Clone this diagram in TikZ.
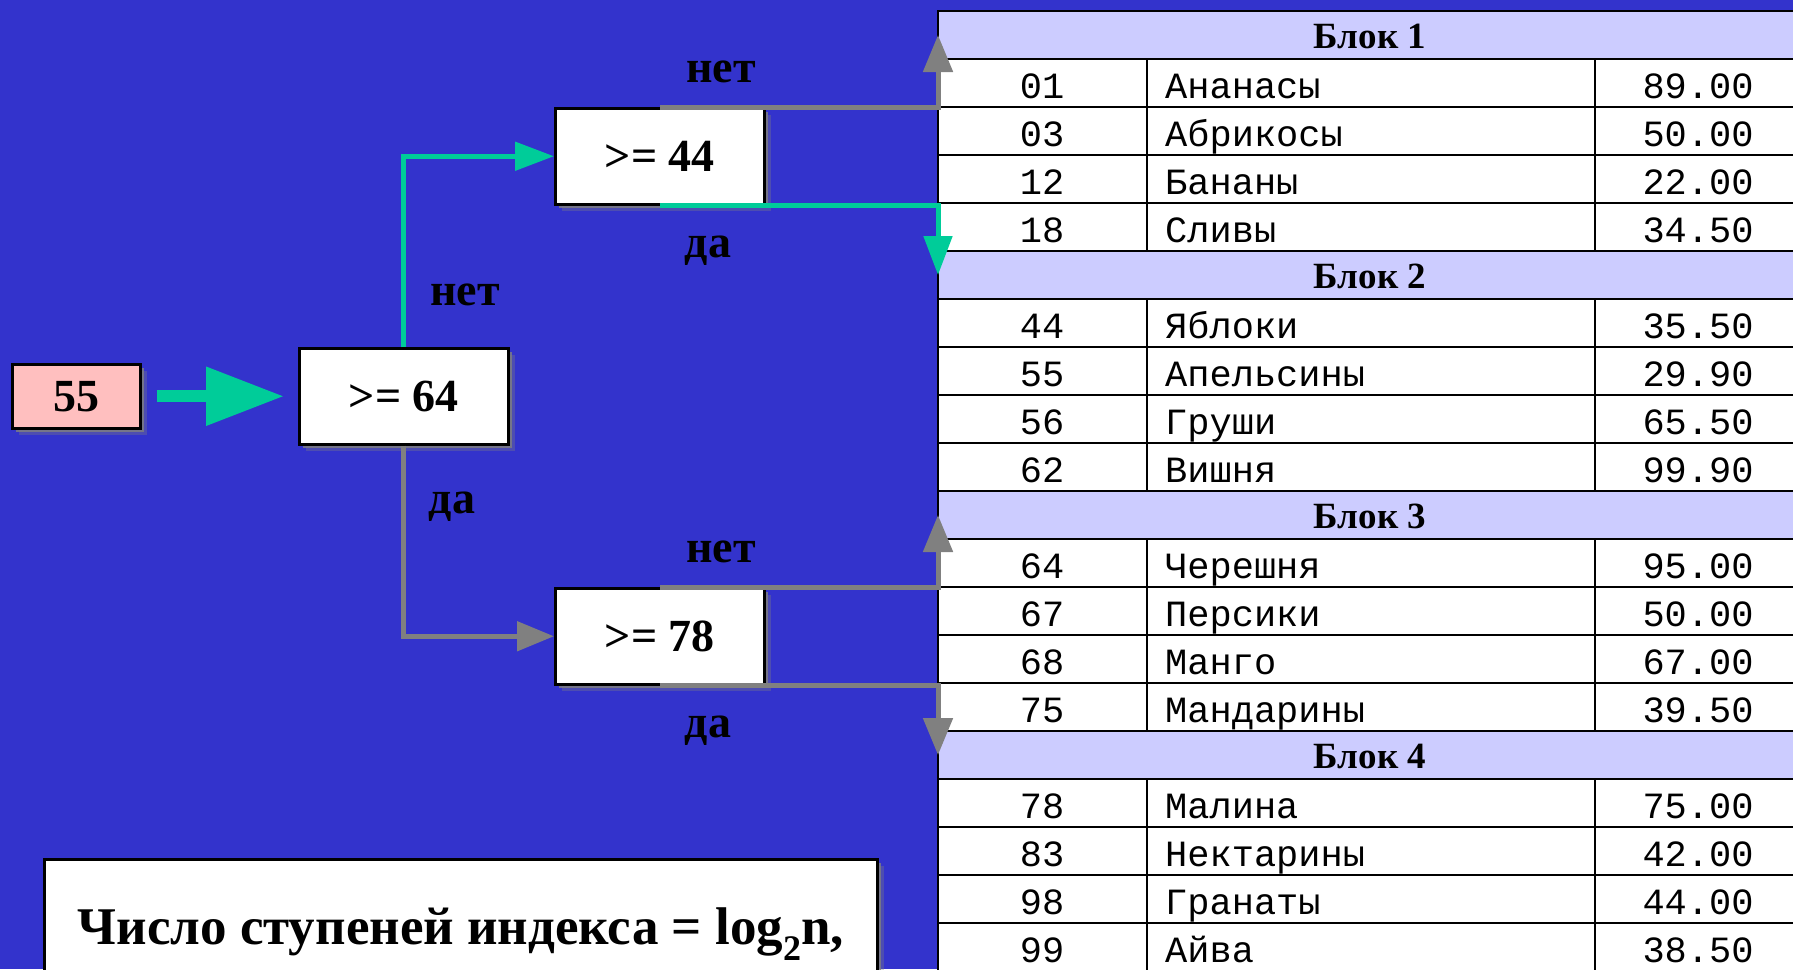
\documentclass[tikz,border=0pt]{standalone}
\usepackage{fontspec}
\setmainfont{Liberation Serif}
\newfontfamily\monof{Liberation Mono}
\usetikzlibrary{arrows.meta,shadows}
\definecolor{bgblue}{HTML}{3333CC}
\definecolor{hdr}{HTML}{CCCCFF}
\definecolor{pinkbox}{HTML}{FFBFBF}
\definecolor{grn}{HTML}{00CC99}
\definecolor{gry}{HTML}{808080}
\begin{document}
\begin{tikzpicture}[x=1pt,y=-1pt,
  boxshadow/.style={drop shadow={shadow xshift=7pt,shadow yshift=-7pt,fill=gry,opacity=.35},
                    drop shadow={shadow xshift=4pt,shadow yshift=-4pt,fill=gry,opacity=.8}},
  box/.style={draw=black, line width=2.5pt, fill=white, inner sep=0pt, anchor=north west,
              font=\fontsize{46}{50}\selectfont\bfseries, boxshadow},
  lbl/.style={font=\fontsize{46}{50}\selectfont\bfseries, anchor=base, inner sep=0pt},
  garrow/.style={draw=gry, line width=5pt, -{Triangle[length=37pt,width=29pt]}},
  carrow/.style={draw=grn, line width=5pt, -{Triangle[length=39pt,width=28pt]}},
  hcell/.style={draw=black, line width=2.5pt, fill=hdr, anchor=north west, minimum width=864pt,
                minimum height=48pt, inner sep=0pt, outer sep=0pt},
  htext/.style={font=\fontsize{37}{40}\selectfont\bfseries, anchor=base, inner sep=0pt},
  tline/.style={draw=black, line width=2.5pt},
  dtext/.style={font=\fontsize{37}{40}\selectfont\monof, inner sep=0pt}
]
\useasboundingbox (0,0) rectangle (1793,969);
\fill[bgblue] (0,0) rectangle (1793,969);

% table
\foreach \b in {0,1,2,3}{
  \pgfmathtruncatemacro\bn{\b+1}
  \node[hcell] (h\bn) at (938,11+240*\b) {};
  \node[htext] (ht\bn) at (1370,48+240*\b) {Блок \bn};
}
\foreach \i/\id/\nm/\pr in {1/01/Ананасы/89.00, 2/03/Абрикосы/50.00, 3/12/Бананы/22.00, 4/18/Сливы/34.50,
  6/44/Яблоки/35.50, 7/55/Апельсины/29.90, 8/56/Груши/65.50, 9/62/Вишня/99.90,
  11/64/Черешня/95.00, 12/67/Персики/50.00, 13/68/Манго/67.00, 14/75/Мандарины/39.50,
  16/78/Малина/75.00, 17/83/Нектарины/42.00, 18/98/Гранаты/44.00, 19/99/Айва/38.50}{
  \pgfmathsetmacro\yt{11+48*\i}
  \draw[tline, fill=white] (938,\yt) rectangle (1802,\yt+48);
  \draw[tline] (1147,\yt) -- (1147,\yt+48) (1595,\yt) -- (1595,\yt+48);
  \node[dtext, anchor=base] (id\i) at (1042,\yt+39) {\id};
  \node[dtext, anchor=base west] (nm\i) at (1165,\yt+39) {\nm};
  \node[dtext, anchor=base] (pr\i) at (1698,\yt+39) {\pr};
}

% boxes
\node[box, fill=pinkbox, minimum width=128pt, minimum height=64pt] (n55) at (11,363) {55};
\node[box, minimum width=209pt, minimum height=96pt] (n64) at (298,347) {>= 64};
\node[box, minimum width=209pt, minimum height=96pt] (n44) at (554,107) {>= 44};
\node[box, minimum width=209pt, minimum height=96pt] (n78) at (554,587) {>= 78};
\node[box, minimum width=833pt, minimum height=150pt, font=\fontsize{53}{57}\selectfont\bfseries]
  (formula) at (43,858) {Число ступеней индекса = log\raisebox{-.3em}{\fontsize{36}{36}\selectfont 2}n,};

% connectors
\draw[draw=grn, line width=12pt, -{Triangle[length=78pt,width=56pt]}, shorten <=15pt, shorten >=14pt]
  (n55.east) -- (n64.west);
\draw[carrow] (n64.north) |- (n44.west);
\draw[garrow] (n64.south) |- (n78.west);
\draw[garrow] (n44.north) -| (h1.west);
\draw[carrow] (n44.south) -| (h2.west);
\draw[garrow] (n78.north) -| (h3.west);
\draw[garrow] (n78.south) -| (h4.west);

% labels
\node[lbl] (no1) at (721,82) {нет};
\node[lbl] (yes1) at (708,257) {да};
\node[lbl] (no0) at (465,305) {нет};
\node[lbl] (yes0) at (452,513) {да};
\node[lbl] (no2) at (721,562) {нет};
\node[lbl] (yes2) at (708,737) {да};
\end{tikzpicture}
\end{document}
